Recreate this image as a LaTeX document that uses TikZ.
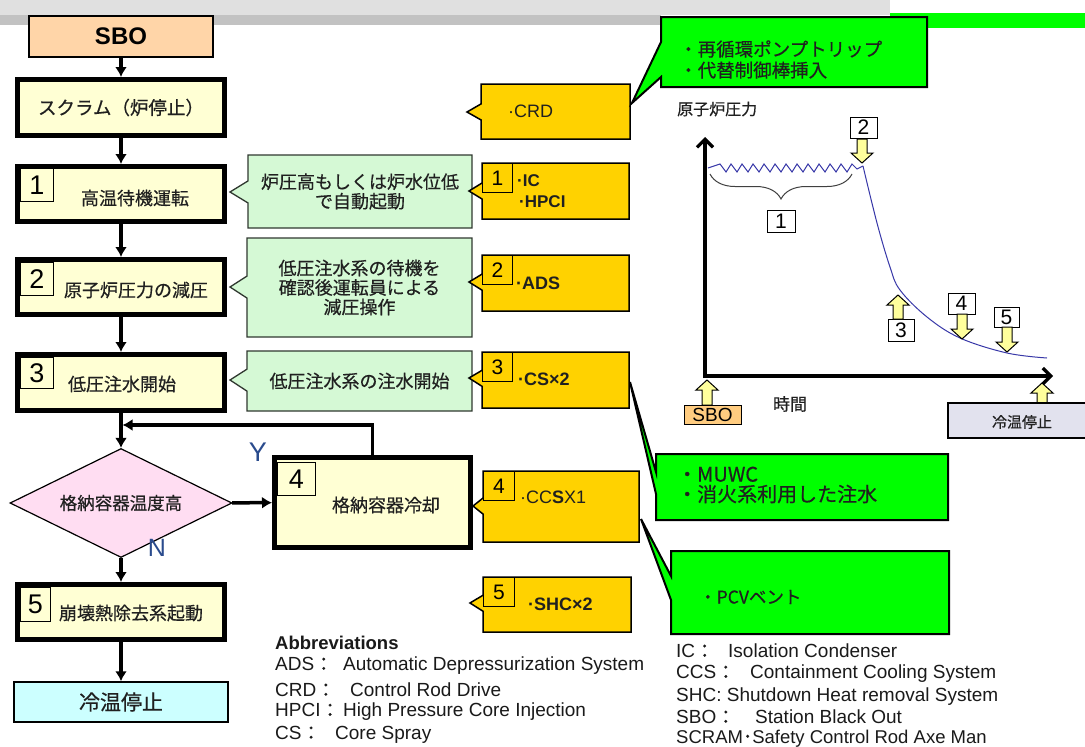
\documentclass[tikz,border=0pt]{standalone}
\usepackage{fontspec}
\setmainfont{Liberation Sans}
\newfontfamily\jp{Noto Sans CJK JP}[FakeBold=0.5]
\usetikzlibrary{arrows.meta,shapes.geometric,shapes.callouts,decorations.pathreplacing}
\definecolor{topgray}{HTML}{E0E0E0}
\definecolor{bandgray}{HTML}{C2C2C2}
\definecolor{brgreen}{HTML}{00FF00}
\definecolor{lightyel}{HTML}{FFFFD4}
\definecolor{peach}{HTML}{FFD5A8}
\definecolor{pinkd}{HTML}{FFDDF2}
\definecolor{coldc}{HTML}{CCFFFF}
\definecolor{lgreen}{HTML}{D5F9D5}
\definecolor{gdark}{HTML}{303830}
\definecolor{yel}{HTML}{FFD200}
\definecolor{txtc}{HTML}{202020}
\definecolor{abc}{HTML}{1A1A1A}
\definecolor{curvec}{HTML}{3838A8}
\definecolor{ync}{HTML}{2A4B8D}
\definecolor{blkfill}{HTML}{FFFF9C}
\definecolor{sbog}{HTML}{FFCC80}
\definecolor{coldg}{HTML}{E2E2EE}
\newcommand\blkup[3]{\draw[blk] (#1,#2) -- ({#1+11},{#2+10}) -- ({#1+5},{#2+10}) -- ({#1+5},#3) -- ({#1-5},#3) -- ({#1-5},{#2+10}) -- ({#1-11},{#2+10}) -- cycle;}
\newcommand\blkdn[3]{\draw[blk] (#1,#2) -- ({#1+11},{#2-10}) -- ({#1+5},{#2-10}) -- ({#1+5},#3) -- ({#1-5},#3) -- ({#1-5},{#2-10}) -- ({#1-11},{#2-10}) -- cycle;}
\begin{document}
\begin{tikzpicture}[x=1pt,y=-1pt,
  bigbox/.style={draw, line width=5pt, fill=lightyel, inner sep=0pt},
  thinbox/.style={draw, line width=1.5pt, inner sep=0pt},
  numlbl/.style={draw, line width=1pt, anchor=north west, inner sep=0pt, font=\fontsize{27}{27}\selectfont},
  jt/.style={inner sep=0pt, text=txtc, font=\jp\fontsize{18}{22}\selectfont},
  flow/.style={line width=3.5pt, -{Latex[length=10pt,width=12pt]}},
  gcall/.style={rectangle callout, draw=gdark, line width=1.3pt, fill=lgreen, callout pointer width=22pt, inner sep=0pt, align=center, text=txtc, font=\jp\fontsize{18}{19.5}\selectfont},
  ycall/.style={rectangle callout, draw=black, line width=1.5pt, fill=yel, callout pointer width=16pt, inner sep=0pt},
  ylbl/.style={draw, line width=1pt, anchor=north west, minimum width=30pt, minimum height=29pt, inner sep=0pt, font=\fontsize{21}{21}\selectfont},
  ytxt/.style={anchor=west, inner sep=0pt, text=txtc, font=\fontsize{18}{21}\selectfont},
  gbox/.style={draw=black, line width=2pt, fill=brgreen},
  gtxt/.style={anchor=west, inner sep=0pt, align=left, text=txtc, font=\jp\fontsize{19}{21}\selectfont},
  abbr/.style={anchor=west, inner sep=0pt, text=abc, font=\fontsize{19}{22}\selectfont},
  curve/.style={draw=curvec, line width=1pt},
  glbl/.style={draw, fill=white, line width=1pt, inner sep=0pt, font=\fontsize{21}{21}\selectfont},
  blk/.style={draw=black, line width=1pt, fill=blkfill},
  yn/.style={text=ync, inner sep=0pt, font=\fontsize{27}{27}\selectfont},
  axis/.style={line width=3.2pt, -{Straight Barb[length=8pt,width=16pt]}}
]
\useasboundingbox (0,0) rectangle (1085,747);
\clip (0,0) rectangle (1085,747);
\fill[white] (0,0) rectangle (1085,747);
% top bands
\fill[topgray] (0,0) rectangle (890,15);
\fill[bandgray] (0,15) rectangle (661,25);
\fill[brgreen] (890,13) rectangle (1085,28);

% ---------- left flowchart ----------
\node[thinbox, fill=peach, minimum width=184pt, minimum height=41pt, font=\bfseries\fontsize{24}{24}\selectfont] (sbo) at (121,36.5) {SBO};
\node[bigbox, minimum width=207pt, minimum height=56pt, jt, font=\jp\fontsize{18.5}{22}\selectfont] (scram) at (121,107.5) {スクラム（炉停止）};
\node[bigbox, minimum width=207pt, minimum height=55pt] (b1) at (121,194) {};
\node[numlbl, minimum width=33pt, minimum height=33pt] (l1) at (20,168) {1};
\node[jt] (t1) at (135,198) {高温待機運転};
\node[bigbox, minimum width=207pt, minimum height=55pt] (b2) at (121,287) {};
\node[numlbl, minimum width=33pt, minimum height=33pt] (l2) at (20,262) {2};
\node[jt] (t2) at (136,290) {原子炉圧力の減圧};
\node[bigbox, minimum width=207pt, minimum height=56pt] (b3) at (121,382.5) {};
\node[numlbl, minimum width=33pt, minimum height=31pt] (l3) at (20,357) {3};
\node[jt] (t3) at (122,384) {低圧注水開始};
\node[diamond, draw, line width=1.2pt, fill=pinkd, minimum width=222pt, minimum height=109pt, shape aspect=2, inner sep=0pt, text=txtc, font=\jp\fontsize{17.5}{20}\selectfont] (dia) at (121,503) {格納容器温度高};
\node[bigbox, minimum width=196pt, minimum height=90pt] (b4) at (372.5,502.5) {};
\node[numlbl, minimum width=38pt, minimum height=33pt] (l4) at (277,462) {4};
\node[jt] (t4) at (386,505) {格納容器冷却};
\node[bigbox, minimum width=207pt, minimum height=55pt] (b5) at (121,612) {};
\node[numlbl, minimum width=30pt, minimum height=34pt] (l5) at (20,587) {5};
\node[jt] (t5) at (131,613) {崩壊熱除去系起動};
\node[thinbox, fill=coldc, minimum width=214pt, minimum height=40pt, text=txtc, font=\jp\fontsize{21}{24}\selectfont] (cold) at (121,702) {冷温停止};

\draw[flow] (sbo) -- (scram);
\draw[flow] (scram) -- (b1);
\draw[flow] (b1) -- (b2);
\draw[flow] (b2) -- (b3);
\draw[flow] (b3) -- (dia);
\draw[flow] (dia) -- (b4);
\draw[flow] (dia) -- (b5);
\draw[flow] (b5) -- (cold);
\coordinate (jn) at (121,425);
\draw[flow, shorten >=1.5pt] (b4.north) |- (jn);
\node[yn] (ylab) at (258,452) {Y};
\node[yn, font=\fontsize{25}{25}\selectfont] (nlab) at (157,548) {N};

% light green callouts
\node[gcall, minimum width=224pt, minimum height=73pt, callout absolute pointer={(230,192)}] (c1) at (360,191.5) {炉圧高もしくは炉水位低\\で自動起動};
\node[gcall, minimum width=225pt, minimum height=99pt, callout absolute pointer={(230,287)}] (c2) at (359.5,287.5) {低圧注水系の待機を\\確認後運転員による\\減圧操作};
\node[gcall, minimum width=225pt, minimum height=60pt, callout absolute pointer={(230,380)}] (c3) at (359.5,381) {低圧注水系の注水開始};

% yellow callouts
\node[ycall, minimum width=149pt, minimum height=55pt, callout absolute pointer={(467,112)}] (ycrd) at (555.5,111.5) {};
\node[ytxt] (tcrd) at (508,111) {·CRD};
\node[ycall, minimum width=147pt, minimum height=56pt, callout absolute pointer={(469,191)}] (yic) at (555.5,191) {};
\node[ylbl] (y1) at (482,163) {1};
\node[ytxt, font=\bfseries\fontsize{17}{21}\selectfont] (tic) at (517,181) {·IC};
\node[ytxt, font=\bfseries\fontsize{17}{21}\selectfont] (thpci) at (519,202) {·HPCI};
\node[ycall, minimum width=147pt, minimum height=56pt, callout absolute pointer={(469,282)}] (yads) at (555.5,283) {};
\node[ylbl] (y2) at (482,255) {2};
\node[ytxt, font=\bfseries\fontsize{18}{21}\selectfont] (tads) at (516,283) {·ADS};
\node[ycall, minimum width=147pt, minimum height=56pt, callout absolute pointer={(469,378)}] (ycs) at (555.5,380) {};
\node[ylbl] (y3) at (482,352) {3};
\node[ytxt, font=\bfseries\fontsize{18}{21}\selectfont] (tcs) at (518,379) {·CS×2};
\node[ycall, minimum width=156pt, minimum height=71pt, callout absolute pointer={(473,506)}] (yccs) at (561,506.5) {};
\node[ylbl, minimum width=31pt] (y4) at (483,471) {4};
\node[ytxt] (tccs) at (520,497) {·CC\textbf{S}X1};
\node[ycall, minimum width=148pt, minimum height=55pt, callout absolute pointer={(470,603)}] (yshc) at (557,604.5) {};
\node[ylbl, minimum width=31pt] (y5) at (483,577) {5};
\node[ytxt, font=\bfseries\fontsize{18}{21}\selectfont] (tshc) at (528,604) {·SHC×2};

% bright green boxes with wedges
\draw[gbox] (927,17) -- (661,17) -- (661,42) -- (632,103) -- (661,77) -- (661,87) -- (927,87) -- cycle;
\node[gtxt, font=\jp\fontsize{18.5}{21}\selectfont] (g1) at (679,59.5) {・再循環ポンプトリップ\\・代替制御棒挿入};
\draw[gbox] (948,454) -- (656,454) -- (656,472) -- (630,382) -- (656,494) -- (656,520) -- (948,520) -- cycle;
\node[gtxt, font=\jp\fontsize{20}{20}\selectfont] (g2) at (677,485) {・MUWC\\・消火系利用した注水};
\draw[gbox] (949,551) -- (671,551) -- (671,576) -- (641,519) -- (671,600) -- (671,634) -- (949,634) -- cycle;
\node[gtxt, font=\jp\fontsize{17.5}{20}\selectfont] (g3) at (699,597) {・PCVベント};

% abbreviations
\node[abbr, font=\bfseries\fontsize{18.5}{22}\selectfont] (abt) at (275,643) {Abbreviations};
\node[abbr] (ab1) at (275,666) {\makebox[68pt][l]{ADS{\jp：}}Automatic Depressurization System};
\node[abbr] (ab2) at (275,690) {\makebox[75pt][l]{CRD{\jp：}}Control Rod Drive};
\node[abbr] (ab3) at (275,712) {\makebox[68pt][l]{HPCI{\jp：}}High Pressure Core Injection};
\node[abbr] (ab4) at (275,735) {\makebox[60pt][l]{CS{\jp：}}Core Spray};
\node[abbr] (ab5) at (676,651) {\makebox[52pt][l]{IC{\jp：}}Isolation Condenser};
\node[abbr] (ab6) at (676,674) {\makebox[74pt][l]{CCS{\jp：}}Containment Cooling System};
\node[abbr] (ab7) at (676,697) {SHC: Shutdown Heat removal System};
\node[abbr] (ab8) at (676,717) {\makebox[79pt][l]{SBO{\jp：}}Station Black Out};
\node[abbr, font=\fontsize{18.5}{21}\selectfont] (ab9) at (676,738.5) {SCRAM{\jp ･}Safety Control Rod Axe Man};

% ---------- graph ----------
\node[anchor=west, inner sep=0pt, text=txtc, font=\jp\fontsize{16}{18}\selectfont] (ylabel) at (677,109) {原子炉圧力};
\coordinate (org) at (705,376);
\coordinate (ytop) at (705,137);
\coordinate (xend) at (1053,376);
\draw[axis] (705,378) -- (ytop);
\draw[axis] (703.5,376) -- (xend);
\draw[curve] (708,168) \foreach \k in {0,...,11}{ -- ({720+11*\k},164) -- ({726+11*\k},172)} -- (852,164) -- (857,169) -- (863,166);
\draw[curve] plot[smooth, tension=0.6] coordinates {(863,166) (877,223) (890,267) (900,290) (927,317) (960,338) (1007,353) (1047,358)};
\draw[draw=black!75, line width=1pt, decorate, decoration={brace, mirror, amplitude=25pt}] (710,174) -- (852,174);
\node[glbl, minimum width=28pt, minimum height=22pt] (g1l) at (781,221) {1};
\node[glbl, minimum width=27pt, minimum height=21pt] (g2l) at (863.5,127.5) {2};
\blkdn{862}{163}{139}
\node[glbl, minimum width=26pt, minimum height=22pt] (g3l) at (901,330) {3};
\blkup{898}{295}{319}
\node[glbl, minimum width=27pt, minimum height=21pt] (g4l) at (961.5,303.5) {4};
\blkdn{962}{339}{314}
\node[glbl, minimum width=25pt, minimum height=20pt] (g5l) at (1006.5,317) {5};
\blkdn{1007}{352}{327}
\blkup{707}{380}{405}
\node[draw, line width=1pt, fill=sbog, minimum width=57pt, minimum height=19pt, inner sep=0pt, font=\fontsize{19}{19}\selectfont] (gsbo) at (712.5,414.5) {SBO};
\node[inner sep=0pt, text=txtc, font=\jp\fontsize{17}{19}\selectfont] (time) at (790,404) {時間};
\blkup{1042}{383}{403}
\draw[line width=1.3pt, fill=coldg] (948,403) rectangle (1092,438);
\node[inner sep=0pt, text=txtc, font=\jp\fontsize{15}{17}\selectfont] (gcold) at (1022,422) {冷温停止};
\end{tikzpicture}
\end{document}
